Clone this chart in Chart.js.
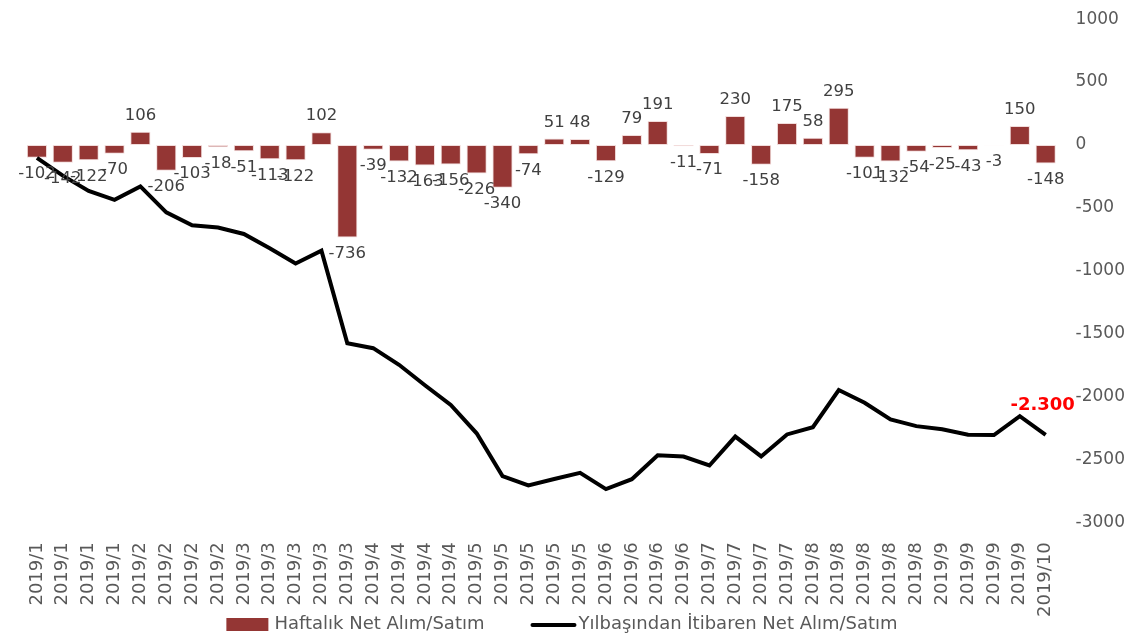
<!DOCTYPE html>
<html>
<head>
<meta charset="utf-8">
<script src="https://cdn.jsdelivr.net/npm/chart.js@4/dist/chart.umd.min.js"></script>
<style>
  html, body { margin: 0; padding: 0; background: #fff; }
  #wrap { width: 1146px; height: 635px; }
</style>
</head>
<body>
<div id="wrap"><canvas id="chart" width="1146" height="635"></canvas></div>
<script>
const weeks = [
    '2019/1', '2019/1', '2019/1', '2019/1',
    '2019/2', '2019/2', '2019/2', '2019/2',
    '2019/3', '2019/3', '2019/3', '2019/3', '2019/3',
    '2019/4', '2019/4', '2019/4', '2019/4',
    '2019/5', '2019/5', '2019/5', '2019/5', '2019/5',
    '2019/6', '2019/6', '2019/6', '2019/6',
    '2019/7', '2019/7', '2019/7', '2019/7',
    '2019/8', '2019/8', '2019/8', '2019/8', '2019/8',
    '2019/9', '2019/9', '2019/9', '2019/9',
    '2019/10'
];

// weekly net buy/sell
const weeklyNet = [
    -102, -142, -122, -70, 106, -206, -103, -18, -51, -113,
    -122, 102, -736, -39, -132, -163, -156, -226, -340, -74,
    51, 48, -129, 79, 191, -11, -71, 230, -158, 175,
    58, 295, -101, -132, -54, -25, -43, -3, 150, -148
];

// year-to-date net buy/sell
const ytdNet = [
    -102, -244, -366, -436, -330, -536, -639, -657, -708, -821,
    -943, -841, -1577, -1616, -1748, -1911, -2067, -2293, -2633, -2707,
    -2656, -2608, -2737, -2658, -2467, -2478, -2549, -2319, -2477, -2302,
    -2244, -1949, -2050, -2182, -2236, -2261, -2304, -2307, -2157, -2305
];

const yTicks = [1000, 500, 0, -500, -1000, -1500, -2000, -2500, -3000];
const lastLabel = '-2.300';

const FONT = '"DejaVu Sans", sans-serif';
const BAR_COLOR = '#943634';

// value labels on bars + red label on the last line point
const valueLabels = {
    id: 'valueLabels',
    afterDatasetsDraw(chart) {
        const ctx = chart.ctx;
        const barMeta = chart.getDatasetMeta(0);
        ctx.save();
        ctx.font = '16.5px ' + FONT;
        ctx.fillStyle = '#404040';
        ctx.textAlign = 'center';
        barMeta.data.forEach((bar, i) => {
            const v = weeklyNet[i];
            if (v >= 0) {
                ctx.textBaseline = 'bottom';
                ctx.fillText(String(v), bar.x, bar.y - 8);
            } else {
                ctx.textBaseline = 'top';
                ctx.fillText(String(v), bar.x, bar.y + 8);
            }
        });

        const lineMeta = chart.getDatasetMeta(1);
        const last = lineMeta.data[lineMeta.data.length - 1];
        ctx.font = 'bold 18px ' + FONT;
        ctx.fillStyle = '#ff0000';
        ctx.textBaseline = 'middle';
        ctx.fillText(lastLabel, last.x - 3, last.y - 29);
        ctx.restore();
    }
};

// simple bottom legend: a box for the bars, a thick line for the line
const bottomLegend = {
    id: 'bottomLegend',
    afterDraw(chart) {
        const ctx = chart.ctx;
        const ds = chart.data.datasets;
        const y = chart.height - 11;
        ctx.save();
        ctx.font = '18px ' + FONT;
        ctx.textBaseline = 'middle';
        ctx.textAlign = 'left';
        const w0 = ctx.measureText(ds[0].label).width;
        const w1 = ctx.measureText(ds[1].label).width;
        const total = 42 + 6 + w0 + 48 + 42 + 4 + w1;
        let x = chart.width / 2 - total / 2 - 11;

        ctx.fillStyle = BAR_COLOR;
        ctx.fillRect(x, y - 6, 42, 13);
        x += 48;
        ctx.fillStyle = '#595959';
        ctx.fillText(ds[0].label, x, y);
        x += w0 + 48;

        ctx.strokeStyle = '#000';
        ctx.lineWidth = 4;
        ctx.lineCap = 'round';
        ctx.beginPath();
        ctx.moveTo(x, y + 1);
        ctx.lineTo(x + 42, y + 1);
        ctx.stroke();
        x += 46;
        ctx.fillText(ds[1].label, x, y);
        ctx.restore();
    }
};

new Chart(document.getElementById('chart').getContext('2d'), {
    data: {
        labels: weeks,
        datasets: [{
            type: 'bar',
            label: 'Haftalık Net Alım/Satım',
            data: weeklyNet,
            backgroundColor: BAR_COLOR,
            borderColor: '#f2dcdb',
            borderWidth: 1,
            borderSkipped: false,
            barPercentage: 0.78,
            categoryPercentage: 1.0,
            order: 2
        }, {
            type: 'line',
            label: 'Yılbaşından İtibaren Net Alım/Satım',
            data: ytdNet,
            borderColor: '#000000',
            backgroundColor: '#000000',
            borderWidth: 4,
            pointRadius: 0,
            tension: 0,
            order: 1
        }]
    },
    options: {
        responsive: false,
        animation: false,
        layout: { padding: { left: 24, right: 12, top: 13, bottom: 6 } },
        scales: {
            x: {
                grid: { display: false },
                border: { display: false },
                ticks: {
                    color: '#595959',
                    font: { size: 18, family: FONT },
                    maxRotation: 90,
                    minRotation: 90,
                    autoSkip: false,
                    padding: 12
                }
            },
            y: {
                position: 'right',
                min: -3000,
                max: 1000,
                afterBuildTicks: (axis) => {
                    axis.ticks = yTicks.map(v => ({ value: v }));
                },
                grid: { display: false },
                border: { display: false },
                ticks: {
                    color: '#595959',
                    font: { size: 17, family: FONT },
                    padding: 9,
                    callback: (v) => String(v)
                }
            }
        },
        plugins: {
            legend: { display: false },
            tooltip: { enabled: false }
        }
    },
    plugins: [valueLabels, bottomLegend]
});
</script>
</body>
</html>
